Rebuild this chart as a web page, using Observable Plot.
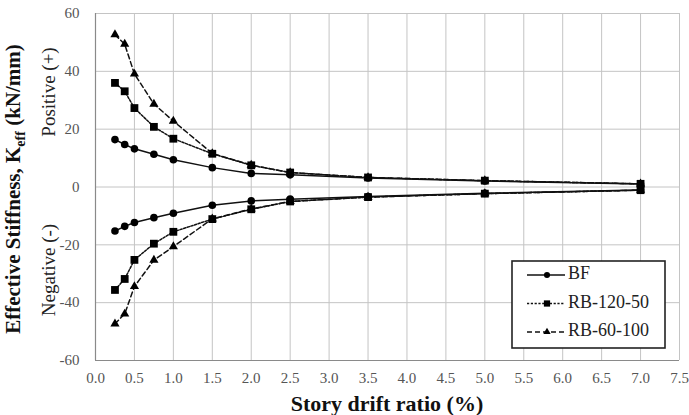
<!DOCTYPE html>
<html>
<head>
<meta charset="utf-8">
<script src="https://cdn.jsdelivr.net/npm/d3@7"></script>
<script src="https://cdn.jsdelivr.net/npm/@observablehq/plot@0.6"></script>
<style>
  html, body { margin: 0; padding: 0; background: #fff; }
  svg { display: block; }
</style>
</head>
<body>
<div id="chart"></div>
<script>
// Story drift ratio (%) at which stiffness was evaluated
const drift = [0.25, 0.375, 0.5, 0.75, 1.0, 1.5, 2.0, 2.5, 3.5, 5.0, 7.0];

// Effective stiffness (kN/mm), positive and negative loading directions
const bfPos     = [16.4, 14.7, 13.2, 11.3, 9.4, 6.7, 4.7, 4.2, 3.1, 2.1, 1.0];
const bfNeg     = [-15.2, -13.6, -12.3, -10.6, -9.1, -6.3, -4.8, -4.2, -3.3, -2.2, -1.0];
const rb12050Pos = [36.0, 33.1, 27.3, 20.8, 16.7, 11.5, 7.5, 5.0, 3.3, 2.2, 1.1];
const rb12050Neg = [-35.6, -31.8, -25.2, -19.6, -15.5, -11.1, -7.7, -5.0, -3.5, -2.3, -1.1];
const rb60100Pos = [52.7, 49.4, 39.1, 28.7, 22.8, 11.6, 7.6, 5.0, 3.3, 2.2, 1.1];
const rb60100Neg = [-47.3, -43.9, -34.4, -25.3, -20.6, -11.0, -7.6, -5.0, -3.5, -2.3, -1.1];

const seriesNames = ["BF", "RB-120-50", "RB-60-100"];
const xTicks = [0, 0.5, 1, 1.5, 2, 2.5, 3, 3.5, 4, 4.5, 5, 5.5, 6, 6.5, 7, 7.5];
const yTicks = [-60, -40, -20, 0, 20, 40, 60];

const styles = {
  "BF":        {symbol: "circle",   r: 3.8, dash: null},
  "RB-120-50": {symbol: "square",   r: 4.4, dash: "2.2,1.6"},
  "RB-60-100": {symbol: "triangle", r: 3.4, dash: "5,3"}
};

function rows(name, side, values) {
  return values.map((v, i) => ({series: name, side, x: drift[i], y: v}));
}
const data = [
  ...rows("RB-60-100", "pos", rb60100Pos), ...rows("RB-60-100", "neg", rb60100Neg),
  ...rows("BF", "pos", bfPos), ...rows("BF", "neg", bfNeg),
  ...rows("RB-120-50", "pos", rb12050Pos), ...rows("RB-120-50", "neg", rb12050Neg)
];

const drawOrder = ["RB-60-100", "BF", "RB-120-50"];
const seriesMarks = drawOrder.flatMap(name => {
  const s = styles[name];
  const d = data.filter(r => r.series === name);
  return [
    Plot.line(d, {x: "x", y: "y", z: "side", stroke: "#111", strokeWidth: 1.5,
                  strokeDasharray: s.dash, curve: "linear"}),
    Plot.dot(d, {x: "x", y: "y", symbol: () => s.symbol, r: s.r, fill: "#000", stroke: "none"})
  ];
});

const serif = "'Liberation Serif', 'DejaVu Serif', serif";

const chart = Plot.plot({
  width: 689,
  height: 415,
  marginLeft: 95,
  marginRight: 10,
  marginTop: 13,
  marginBottom: 55,
  style: {fontFamily: serif, fontSize: "15px", background: "#fff", overflow: "visible"},
  x: {domain: [0, 7.5], label: null},
  y: {domain: [-60, 60], label: null},
  marks: [
    Plot.gridX(xTicks, {stroke: "#c4c4c4", strokeOpacity: 1, strokeWidth: 1}),
    Plot.gridY(yTicks, {stroke: "#c4c4c4", strokeOpacity: 1, strokeWidth: 1}),
    Plot.ruleX([0], {stroke: "#8a8a8a", strokeWidth: 1.2}),
    Plot.ruleY([-60], {stroke: "#8a8a8a", strokeWidth: 1.2}),
    Plot.axisX(xTicks, {tickSize: 0, tickPadding: 12, tickFormat: d3.format(".1f"),
                        fill: "#555", label: null}),
    Plot.axisY(yTicks, {tickSize: 0, tickPadding: 16, tickFormat: d => String(d),
                        fill: "#555", label: null}),
    ...seriesMarks
  ]
});

document.getElementById("chart").appendChild(chart);

// Axis titles and direction labels
const svg = d3.select(chart);
const yLab = svg.append("text")
  .attr("transform", "translate(20,189) rotate(-90)")
  .attr("text-anchor", "middle")
  .attr("font-family", serif)
  .attr("font-weight", "bold")
  .attr("font-size", 21)
  .attr("fill", "#111");
yLab.append("tspan").text("Effective Stiffness, K");
yLab.append("tspan").attr("font-size", 14).attr("dy", 5).text("eff");
yLab.append("tspan").attr("dy", -5).text(" (kN/mm)");

svg.append("text")
  .attr("transform", "translate(51,92) rotate(-90)")
  .attr("text-anchor", "middle")
  .attr("dominant-baseline", "middle")
  .attr("font-family", serif)
  .attr("font-size", 19)
  .attr("fill", "#222")
  .text("Positive (+)");

svg.append("text")
  .attr("transform", "translate(51,270) rotate(-90)")
  .attr("text-anchor", "middle")
  .attr("dominant-baseline", "middle")
  .attr("font-family", serif)
  .attr("font-size", 19)
  .attr("fill", "#222")
  .text("Negative (-)");

svg.append("text")
  .attr("x", 387)
  .attr("y", 411)
  .attr("text-anchor", "middle")
  .attr("font-family", serif)
  .attr("font-weight", "bold")
  .attr("font-size", 22)
  .attr("fill", "#111")
  .text("Story drift ratio (%)");

// Legend box inside the plot area
const legend = svg.append("g");
legend.append("rect")
  .attr("x", 512).attr("y", 261).attr("width", 153).attr("height", 87)
  .attr("fill", "#fff").attr("stroke", "#222").attr("stroke-width", 1.6);
const sym = {circle: d3.symbolCircle, square: d3.symbolSquare, triangle: d3.symbolTriangle};
seriesNames.forEach((name, i) => {
  const s = styles[name];
  const yy = 275 + i * 28.5;
  legend.append("line")
    .attr("x1", 527).attr("x2", 565).attr("y1", yy).attr("y2", yy)
    .attr("stroke", "#111").attr("stroke-width", 1.4)
    .attr("stroke-dasharray", s.dash);
  legend.append("path")
    .attr("transform", `translate(547,${yy})`)
    .attr("d", d3.symbol(sym[s.symbol], Math.PI * (s.r * 0.8) ** 2)())
    .attr("fill", "#000");
  legend.append("text")
    .attr("x", 568).attr("y", yy)
    .attr("text-anchor", "start")
    .attr("dominant-baseline", "middle")
    .attr("font-family", serif)
    .attr("font-size", 18)
    .attr("fill", "#222")
    .text(name);
});
</script>
</body>
</html>
